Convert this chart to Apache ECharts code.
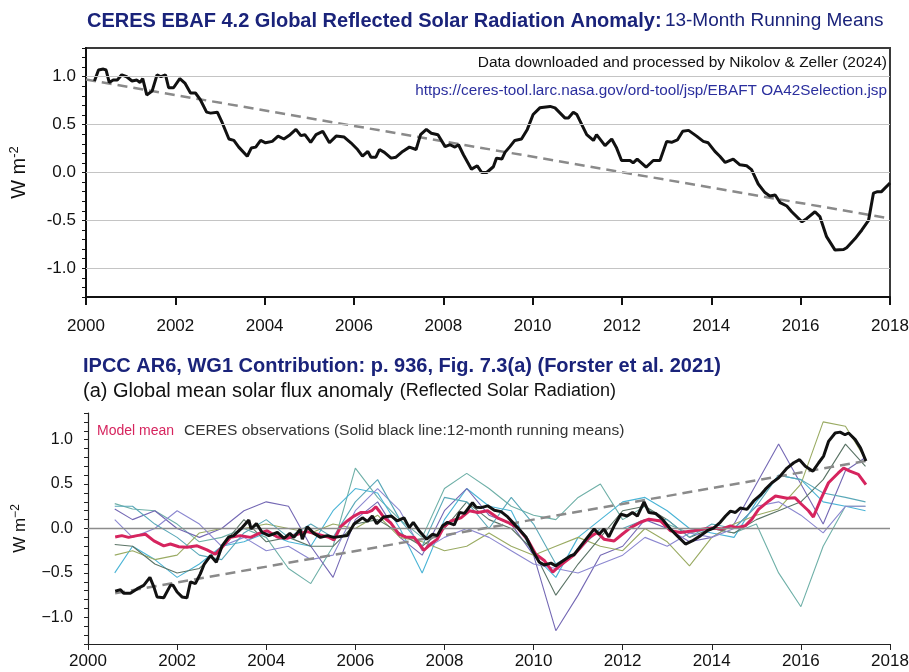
<!DOCTYPE html>
<html>
<head>
<meta charset="utf-8">
<script src="https://cdn.jsdelivr.net/npm/echarts@6/dist/echarts.min.js"></script>
<style>
  html, body { margin: 0; padding: 0; background: #fff; }
  #chart { width: 909px; height: 672px; }
</style>
</head>
<body>
<div id="chart"></div>
<script>
// top panel: CERES EBAF 4.2, 13-month running mean
var topYears = [2000.19,2000.28,2000.39,2000.45,2000.52,2000.61,2000.70,2000.80,2000.91,2001.03,2001.14,2001.21,2001.27,2001.36,2001.48,2001.59,2001.68,2001.78,2001.85,2001.96,
  2002.10,2002.22,2002.34,2002.45,2002.56,2002.70,2002.79,2002.94,2003.05,2003.20,2003.31,2003.42,2003.61,2003.70,2003.80,2003.91,2004.02,2004.17,2004.30,2004.43,
  2004.57,2004.70,2004.81,2004.90,2005.03,2005.15,2005.30,2005.45,2005.60,2005.78,2005.93,2006.08,2006.19,2006.31,2006.38,2006.49,2006.57,2006.68,2006.83,2006.94,
  2007.09,2007.24,2007.39,2007.49,2007.62,2007.73,2007.88,2008.04,2008.15,2008.26,2008.34,2008.45,2008.63,2008.76,2008.86,2008.97,2009.12,2009.19,2009.31,2009.38,
  2009.49,2009.60,2009.75,2009.88,2010.01,2010.16,2010.39,2010.50,2010.72,2010.80,2010.91,2010.99,2011.21,2011.36,2011.43,2011.62,2011.77,2011.88,2011.99,2012.18,
  2012.25,2012.34,2012.54,2012.70,2012.85,2013.00,2013.11,2013.24,2013.36,2013.49,2013.67,2013.82,2013.93,2014.08,2014.19,2014.31,2014.49,2014.64,2014.79,2014.90,
  2015.05,2015.20,2015.31,2015.43,2015.54,2015.69,2015.80,2016.03,2016.14,2016.32,2016.43,2016.58,2016.77,2016.96,2017.03,2017.22,2017.37,2017.52,2017.63,2017.72,
  2017.81,2018.00];
var topValues = [0.955,1.07,1.08,1.07,0.94,0.965,0.965,1.02,1.00,0.955,0.965,0.94,0.98,0.81,0.85,1.02,1.00,1.02,0.885,0.885,
  0.98,0.93,0.83,0.83,0.76,0.63,0.62,0.63,0.52,0.35,0.335,0.265,0.17,0.255,0.265,0.335,0.31,0.325,0.38,0.35,
  0.395,0.45,0.385,0.395,0.315,0.395,0.43,0.31,0.38,0.37,0.31,0.24,0.17,0.22,0.16,0.16,0.24,0.21,0.15,0.16,
  0.22,0.265,0.24,0.395,0.45,0.41,0.395,0.27,0.29,0.265,0.29,0.185,0.035,0.07,0.0,0.0,0.06,0.15,0.14,0.21,
  0.27,0.335,0.35,0.45,0.605,0.675,0.69,0.675,0.57,0.57,0.63,0.605,0.395,0.335,0.395,0.28,0.35,0.255,0.125,0.125,
  0.10,0.14,0.055,0.125,0.125,0.325,0.315,0.34,0.43,0.44,0.38,0.325,0.31,0.22,0.17,0.105,0.14,0.08,0.07,0.03,
  -0.12,-0.21,-0.245,-0.235,-0.315,-0.35,-0.41,-0.515,-0.48,-0.41,-0.46,-0.67,-0.81,-0.805,-0.785,-0.69,-0.60,-0.50,-0.215,-0.20,
  -0.20,-0.11];
var topTrendYears = [2000, 2018];
var topTrendValues = [0.97, -0.48];
var topGridValues = [-1.0, -0.5, 0.0, 0.5, 1.0];

// bottom panel: IPCC AR6 Fig 7.3(a)
var obsYears = [2000.61,2000.73,2000.80,2000.95,2001.10,2001.25,2001.39,2001.48,2001.55,2001.70,2001.85,2001.91,2002.00,2002.11,2002.22,2002.30,2002.41,2002.52,2002.61,2002.75,
  2002.88,2003.01,2003.16,2003.27,2003.46,2003.61,2003.66,2003.78,2003.91,2004.06,2004.25,2004.40,2004.53,2004.62,2004.76,2004.81,2004.92,2005.07,2005.22,2005.37,
  2005.52,2005.82,2005.97,2006.16,2006.27,2006.38,2006.48,2006.64,2006.81,2006.94,2007.09,2007.21,2007.30,2007.43,2007.60,2007.73,2007.84,2007.96,2008.07,2008.22,
  2008.34,2008.45,2008.63,2008.71,2008.82,2008.97,2009.12,2009.27,2009.42,2009.64,2009.83,2009.98,2010.13,2010.24,2010.39,2010.50,2010.69,2010.84,2010.91,2011.06,
  2011.21,2011.36,2011.47,2011.58,2011.69,2011.81,2011.96,2012.10,2012.22,2012.33,2012.48,2012.59,2012.74,2012.89,2013.07,2013.22,2013.41,2013.56,2013.75,2013.90,
  2014.04,2014.19,2014.31,2014.42,2014.53,2014.64,2014.79,2014.94,2015.09,2015.20,2015.35,2015.50,2015.69,2015.84,2015.97,2016.10,2016.27,2016.40,2016.51,2016.62,
  2016.77,2016.88,2016.99,2017.07,2017.22,2017.34,2017.46];
var obsValues = [-0.705,-0.69,-0.73,-0.73,-0.68,-0.64,-0.55,-0.66,-0.77,-0.78,-0.64,-0.64,-0.715,-0.77,-0.78,-0.60,-0.62,-0.51,-0.40,-0.305,
  -0.38,-0.195,-0.095,-0.08,0.01,0.095,-0.005,0.055,-0.045,-0.08,-0.045,-0.11,-0.055,-0.10,-0.01,-0.12,0.02,-0.055,-0.10,-0.08,
  -0.10,-0.08,0.05,0.12,0.08,0.14,0.055,0.13,0.14,0.085,0.12,0.01,0.07,-0.025,-0.12,-0.065,-0.08,0.03,0.07,0.04,
  0.18,0.17,0.29,0.24,0.235,0.255,0.205,0.19,0.13,0.01,-0.095,-0.25,-0.38,-0.41,-0.39,-0.42,-0.355,-0.305,-0.295,-0.195,
  -0.10,-0.005,-0.065,-0.005,-0.095,0.03,0.16,0.14,0.18,0.14,0.30,0.18,0.17,0.105,-0.005,-0.08,-0.175,-0.14,-0.08,-0.025,
  0.005,0.07,0.14,0.195,0.18,0.23,0.215,0.31,0.375,0.44,0.515,0.57,0.68,0.74,0.775,0.70,0.645,0.74,0.815,0.98,
  1.075,1.085,1.055,1.075,1.0,0.905,0.76];

var meanYears = [2000.61,2000.76,2000.91,2001.10,2001.29,2001.48,2001.70,2001.85,2002.04,2002.22,2002.45,2002.67,2002.86,2003.01,2003.20,2003.42,2003.65,2003.84,2004.02,2004.25,
  2004.47,2004.70,2004.92,2005.15,2005.41,2005.52,2005.67,2005.82,2005.97,2006.12,2006.27,2006.38,2006.46,2006.53,2006.64,2006.79,2006.98,2007.13,2007.32,2007.54,
  2007.69,2007.84,2007.99,2008.15,2008.37,2008.56,2008.75,2008.97,2009.19,2009.42,2009.64,2009.87,2010.05,2010.24,2010.43,2010.54,2010.72,2010.91,2011.06,2011.25,
  2011.43,2011.58,2011.81,2011.99,2012.18,2012.40,2012.59,2012.85,2013.07,2013.30,2013.60,2013.82,2014.01,2014.23,2014.42,2014.57,2014.75,2014.90,2015.05,2015.28,
  2015.43,2015.69,2015.87,2016.02,2016.17,2016.28,2016.43,2016.62,2016.84,2016.96,2017.10,2017.29,2017.46];
var meanValues = [-0.095,-0.08,-0.10,-0.08,-0.065,-0.14,-0.195,-0.175,-0.205,-0.21,-0.195,-0.24,-0.29,-0.21,-0.10,-0.08,-0.10,-0.055,-0.025,-0.095,
  -0.11,-0.065,-0.035,-0.065,-0.10,-0.13,0.02,0.085,0.14,0.18,0.18,0.205,0.245,0.20,0.125,0.065,-0.065,-0.095,-0.10,-0.245,
  -0.175,-0.12,0.02,0.085,0.12,0.20,0.18,0.20,0.12,0.07,0.01,-0.13,-0.29,-0.36,-0.49,-0.44,-0.37,-0.295,-0.21,-0.10,
  -0.045,-0.12,-0.14,-0.065,0.01,0.07,0.105,0.085,-0.025,-0.045,-0.025,-0.005,0.005,-0.005,0.03,0.01,0.03,0.105,0.215,0.31,
  0.365,0.34,0.345,0.27,0.20,0.13,0.31,0.515,0.625,0.68,0.645,0.61,0.495];

var obsTrendYears = [2000.61, 2017.46];
var obsTrendValues = [-0.73, 0.76];

// individual models (thin lines), half-year steps
var modelYears = [2000.6,2001.0,2001.5,2002.0,2002.5,2003.0,2003.5,2004.0,2004.5,2005.0,2005.5,2006.0,2006.5,2007.0,2007.5,2008.0,2008.5,2009.0,
  2009.5,2010.0,2010.5,2011.0,2011.5,2012.0,2012.5,2013.0,2013.5,2014.0,2014.5,2015.0,2015.5,2016.0,2016.5,2017.0,2017.45];
var modelA = [0.28,0.22,0.2,0.05,-0.15,-0.1,0.0,-0.1,-0.45,-0.62,-0.2,0.68,0.35,0.1,-0.1,0.45,0.62,0.45,0.25,0.15,0.1,0.35,0.5,0.1,0.25,0.05,-0.05,0.0,-0.05,0.05,-0.5,-0.88,-0.2,0.25,0.25];
var modelB = [-0.5,-0.2,-0.35,-0.55,-0.4,-0.2,-0.15,-0.05,-0.15,-0.2,0.2,0.45,0.4,0.0,-0.5,0.1,0.45,0.25,0.2,-0.3,-0.55,-0.1,0.1,0.3,0.35,0.2,0.0,-0.05,-0.1,0.3,0.6,0.55,0.3,0.25,0.2];
var modelC = [0.22,0.1,0.2,0.0,-0.1,0.0,0.2,0.3,0.25,-0.2,-0.55,0.1,0.3,-0.1,-0.3,0.2,0.45,0.15,0.05,-0.3,-1.15,-0.75,-0.3,-0.2,0.1,0.0,-0.15,-0.1,0.05,0.5,0.95,0.5,0.05,0.65,0.8];
var modelD = [-0.3,-0.25,-0.35,-0.3,-0.05,0.0,0.0,0.05,0.0,-0.05,0.05,0.0,0.15,-0.1,-0.15,-0.25,-0.2,-0.05,-0.2,-0.3,-0.2,-0.1,-0.2,-0.25,0.0,-0.15,-0.42,-0.1,0.05,0.15,0.22,0.5,1.2,1.15,0.78];
var modelE = [-0.18,-0.2,-0.4,-0.5,-0.45,-0.2,0.1,-0.15,-0.1,-0.2,-0.2,0.05,0.1,-0.05,-0.2,0.0,0.3,0.1,0.0,-0.25,-0.75,-0.4,-0.1,0.2,0.25,0.1,-0.1,0.0,-0.05,0.1,0.2,0.3,0.55,0.95,0.7];
var modelF = [0.1,-0.1,0.0,0.2,0.05,-0.2,-0.1,-0.25,-0.2,-0.35,-0.3,0.2,0.45,0.2,-0.25,-0.1,0.0,-0.1,-0.25,-0.4,-0.45,-0.5,-0.4,-0.3,-0.1,-0.2,-0.05,-0.1,0.0,0.25,0.3,0.15,-0.05,0.25,0.25];
var modelG = [0.25,0.25,0.05,-0.1,-0.3,-0.35,-0.05,0.1,-0.1,0.05,-0.1,0.3,0.55,0.1,-0.2,0.35,0.3,0.0,0.35,0.05,-0.4,-0.25,0.0,0.0,0.1,0.1,-0.1,0.05,0.0,0.25,0.6,0.55,0.4,0.35,0.3];
var modelList = [modelA, modelB, modelC, modelD, modelE, modelF, modelG];
var modelColors = ['#6fb0a8', '#4ab4d6', '#7468b4', '#9aab63', '#5b7466', '#8c88d0', '#5aa8b8'];

function pairs(xs, ys) {
  return xs.map(function (x, i) { return [x, ys[i]]; });
}

var FONT = "'Liberation Sans', Arial, sans-serif";

function yLabel(minus) {
  return function (v) {
    var r = Math.round(v * 10);
    if (r % 5 !== 0) return '';
    var s = Math.abs(r / 10).toFixed(1);
    return r < 0 ? minus + s : s;
  };
}
function yearLabel(v) { return String(Math.round(v)); }

var chart = echarts.init(document.getElementById('chart'));

var series = [
  {
    type: 'line', xAxisIndex: 0, yAxisIndex: 0, data: [], z: 1,
    markLine: {
      silent: true, symbol: ['none', 'none'], label: {show: false},
      lineStyle: {color: '#c4c4c4', width: 1.2, type: 'solid'},
      data: topGridValues.map(function (v) { return {yAxis: v}; })
    }
  },
  {
    type: 'line', xAxisIndex: 0, yAxisIndex: 0, showSymbol: false, z: 3,
    lineStyle: {color: '#8a8a8a', width: 2.5, type: [10, 6]},
    data: pairs(topTrendYears, topTrendValues)
  },
  {
    type: 'line', xAxisIndex: 0, yAxisIndex: 0, showSymbol: false, z: 4,
    lineStyle: {color: '#111', width: 3},
    data: pairs(topYears, topValues)
  },
  {
    type: 'line', xAxisIndex: 1, yAxisIndex: 1, data: [], z: 1,
    markLine: {
      silent: true, symbol: ['none', 'none'], label: {show: false},
      lineStyle: {color: '#8c8c8c', width: 1.3, type: 'solid'},
      data: [{yAxis: 0}]
    }
  }
];

modelList.forEach(function (vals, i) {
  series.push({
    type: 'line', xAxisIndex: 1, yAxisIndex: 1, showSymbol: false, z: 2,
    lineStyle: {color: modelColors[i], width: 1.1},
    data: pairs(modelYears, vals)
  });
});

series.push(
  {
    type: 'line', xAxisIndex: 1, yAxisIndex: 1, showSymbol: false, z: 3,
    lineStyle: {color: '#8a8a8a', width: 2.5, type: [10, 6]},
    data: pairs(obsTrendYears, obsTrendValues)
  },
  {
    type: 'line', xAxisIndex: 1, yAxisIndex: 1, showSymbol: false, z: 4,
    lineStyle: {color: '#d6245e', width: 3},
    data: pairs(meanYears, meanValues)
  },
  {
    type: 'line', xAxisIndex: 1, yAxisIndex: 1, showSymbol: false, z: 5,
    lineStyle: {color: '#111', width: 3},
    data: pairs(obsYears, obsValues)
  }
);

var option = {
  backgroundColor: '#fff',
  animation: false,
  grid: [
    {left: 86, right: 19, top: 48, bottom: 375, show: true, borderColor: '#3a3a3a', borderWidth: 2, outerBoundsMode: 'none'},
    {left: 88, right: 19, top: 413, bottom: 28, outerBoundsMode: 'none'}
  ],
  xAxis: [
    {
      type: 'value', gridIndex: 0, min: 2000, max: 2018, interval: 2,
      axisLine: {show: true, onZero: false, lineStyle: {color: '#111', width: 2}},
      axisTick: {show: true, length: 8, lineStyle: {color: '#111', width: 2}},
      axisLabel: {color: '#111', fontSize: 17, fontFamily: FONT, margin: 21, formatter: yearLabel},
      splitLine: {show: false}
    },
    {
      type: 'value', gridIndex: 1, min: 2000, max: 2018, interval: 2,
      axisLine: {show: true, onZero: false, lineStyle: {color: '#222', width: 1.2}},
      axisTick: {show: true, length: 6, lineStyle: {color: '#222'}},
      axisLabel: {color: '#111', fontSize: 17, fontFamily: FONT, margin: 9, formatter: yearLabel},
      splitLine: {show: false}
    }
  ],
  yAxis: [
    {
      type: 'value', gridIndex: 0, min: -1.3, max: 1.3, interval: 0.1,
      axisLine: {show: true, onZero: false, lineStyle: {color: '#111', width: 2}},
      axisTick: {show: true, length: 4, lineStyle: {color: '#111', width: 1}},
      axisLabel: {color: '#111', fontSize: 17, fontFamily: FONT, margin: 10, formatter: yLabel('-')},
      splitLine: {show: false},
      name: 'W m{s|-2}', nameLocation: 'middle', nameGap: 55, nameRotate: 90,
      nameTextStyle: {color: '#111', fontSize: 20, fontFamily: FONT, rich: {s: {fontSize: 13, verticalAlign: 'top', padding: [0, 0, 10, 0], color: '#111', fontFamily: FONT}}}
    },
    {
      type: 'value', gridIndex: 1, min: -1.3, max: 1.3, interval: 0.1,
      axisLine: {show: true, onZero: false, lineStyle: {color: '#222', width: 1.2}},
      axisTick: {show: true, length: 4, lineStyle: {color: '#222', width: 1}},
      axisLabel: {color: '#111', fontSize: 16, fontFamily: FONT, margin: 15, formatter: yLabel('\u2212')},
      splitLine: {show: false},
      name: 'W m{s|\u22122}', nameLocation: 'middle', nameGap: 57, nameRotate: 90,
      nameTextStyle: {color: '#111', fontSize: 17, fontFamily: FONT, rich: {s: {fontSize: 12, verticalAlign: 'top', padding: [0, 0, 9, 0], color: '#111', fontFamily: FONT}}}
    }
  ],
  graphic: [
    {
      type: 'text', left: 87, top: 11,
      style: {
        text: '{b|CERES EBAF 4.2 Global Reflected Solar Radiation Anomaly:} {n|13-Month Running Means}',
        rich: {
          b: {fontSize: 20, fontWeight: 'bold', fill: '#1a237a', fontFamily: FONT},
          n: {fontSize: 19, fill: '#1a237a', fontFamily: FONT}
        }
      }
    },
    {
      type: 'text', right: 22, top: 55,
      style: {text: 'Data downloaded and processed by Nikolov & Zeller (2024)', fontSize: 15.5, fill: '#111', fontFamily: FONT}
    },
    {
      type: 'text', right: 22, top: 83,
      style: {text: 'https://ceres-tool.larc.nasa.gov/ord-tool/jsp/EBAFT OA42Selection.jsp', fontSize: 15.3, fill: '#2b2f9e', fontFamily: FONT}
    },
    {
      type: 'text', left: 83, top: 356,
      style: {text: 'IPCC AR6, WG1 Contribution: p. 936, Fig. 7.3(a) (Forster et al. 2021)', fontSize: 20, fontWeight: 'bold', fill: '#1a237a', fontFamily: FONT}
    },
    {
      type: 'text', left: 83, top: 381,
      style: {
        text: '{a|(a) Global mean solar flux anomaly}  {b|(Reflected Solar Radiation)}',
        rich: {
          a: {fontSize: 20, fill: '#111', fontFamily: FONT},
          b: {fontSize: 18, fill: '#111', fontFamily: FONT}
        }
      }
    },
    {
      type: 'text', left: 97, top: 423,
      style: {
        text: '{m|Model mean}   {c|CERES observations (Solid black line:12-month running means)}',
        rich: {
          m: {fontSize: 14, fill: '#d6245e', fontFamily: FONT},
          c: {fontSize: 15.5, fill: '#333', fontFamily: FONT}
        }
      }
    }
  ],
  series: series
};

chart.setOption(option);
</script>
</body>
</html>
